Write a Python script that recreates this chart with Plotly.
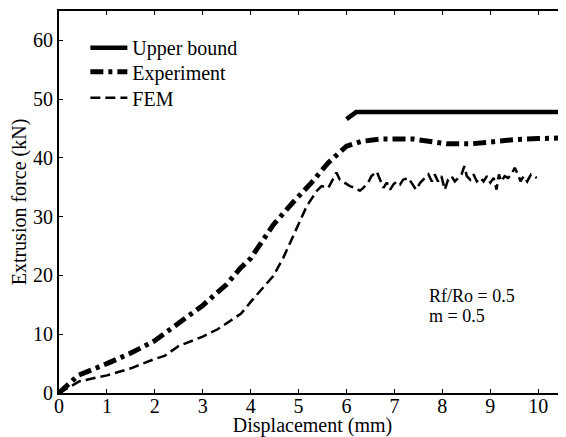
import plotly.graph_objects as go

# Upper bound (solid)
ub_x = [6.0, 6.2, 10.6]
ub_y = [46.6, 47.8, 47.8]

# Experiment (dash-dot)
exp_x = [0, 0.4, 1.0, 1.5, 2.0, 2.5, 3.0, 3.5, 3.78, 4.0, 4.47, 4.89, 5.27, 5.62, 6.0,
         6.3, 6.7, 7.4, 7.8, 8.1, 8.6, 9.0, 9.5, 10.0, 10.6]
exp_y = [0, 3.0, 5.0, 6.8, 8.9, 11.8, 14.9, 18.5, 21.2, 22.9, 28.6, 32.5, 35.8, 39.2, 42.0,
         42.8, 43.2, 43.2, 42.8, 42.4, 42.4, 42.8, 43.1, 43.3, 43.4]

# FEM (dashed)
fem_x = [0, 0.43, 1.0, 1.5, 2.0, 2.2, 2.5, 3.0, 3.3, 3.6, 3.8, 4.0, 4.47, 4.68, 4.92,
         5.17, 5.38, 5.48, 5.62, 5.79, 5.86, 5.97, 6.07, 6.18, 6.28, 6.35, 6.45, 6.52,
         6.63, 6.70, 6.77, 6.84, 6.91, 6.98, 7.05, 7.12, 7.18, 7.29, 7.36, 7.45, 7.54,
         7.64, 7.71, 7.78, 7.84, 7.91, 7.98, 8.05, 8.12, 8.19, 8.26, 8.33, 8.40, 8.46,
         8.51, 8.58, 8.65, 8.72, 8.79, 8.86, 8.93, 9.00, 9.07, 9.13, 9.18, 9.23, 9.30,
         9.37, 9.44, 9.51, 9.58, 9.63, 9.70, 9.77, 9.85, 9.92, 9.97]
fem_y = [0, 2.0, 3.0, 4.2, 5.8, 6.3, 8.0, 9.6, 10.8, 12.5, 13.5, 15.5, 19.9, 23.0, 27.3,
         31.8, 34.4, 35.2, 34.9, 37.5, 36.3, 35.8, 35.2, 34.9, 34.4, 34.9, 35.8, 36.9,
         37.7, 36.3, 34.9, 35.8, 34.6, 35.5, 36.0, 35.5, 36.3, 36.6, 35.8, 34.6, 35.8,
         36.6, 37.2, 36.0, 37.2, 36.0, 36.9, 34.6, 36.3, 36.9, 36.0, 36.6, 37.2, 38.6,
         36.9, 36.3, 37.2, 36.0, 36.6, 36.0, 36.9, 35.8, 36.6, 34.6, 37.2, 36.0, 36.9,
         36.6, 37.2, 38.3, 37.2, 36.0, 36.9, 36.0, 37.2, 36.9, 36.6]

x_ticks = [0, 1, 2, 3, 4, 5, 6, 7, 8, 9, 10]
y_ticks = [0, 10, 20, 30, 40, 50, 60]

FONT = "Liberation Serif"

fig = go.Figure()
fig.add_trace(go.Scatter(x=ub_x, y=ub_y, mode="lines", name="Upper bound", legend="legend",
                         line=dict(color="black", width=4.5)))
fig.add_trace(go.Scatter(x=exp_x, y=exp_y, mode="lines", name="Experiment", legend="legend2",
                         line=dict(color="black", width=5, dash="13px,5px,4px,5px")))
fig.add_trace(go.Scatter(x=fem_x, y=fem_y, mode="lines", name="FEM", legend="legend3",
                         line=dict(color="black", width=2.5, dash="10px,5px")))

axis_common = dict(showline=True, linecolor="black", linewidth=2, ticks="inside",
                   ticklen=4, tickwidth=1, tickcolor="black", showgrid=False,
                   zeroline=False, tickfont=dict(family=FONT, size=20, color="black"))

leg_common = dict(x=0.052, xanchor="left", yanchor="middle", bgcolor="rgba(0,0,0,0)",
                  itemwidth=37, font=dict(family=FONT, size=20, color="black"))

fig.update_layout(
    width=558, height=429,
    margin=dict(l=51, r=0, t=3, b=44),
    plot_bgcolor="white", paper_bgcolor="white",
    font=dict(family=FONT, size=20, color="black"),
    xaxis=dict(range=[0, 10.58], tickvals=x_ticks, mirror="ticks", ticklabelstandoff=-6,
               title=dict(text="Displacement (mm)", font=dict(family=FONT, size=20), standoff=4),
               **axis_common),
    yaxis=dict(range=[0, 65], tickvals=y_ticks,
               title=dict(text="Extrusion force (kN)", font=dict(family=FONT, size=20), standoff=4),
               **axis_common),
    legend=dict(y=0.904, **leg_common),
    legend2=dict(y=0.841, **leg_common),
    legend3=dict(y=0.773, **leg_common),
    showlegend=True,
)

fig.add_annotation(x=7.67, y=16.5, xref="x", yref="y", text="Rf/Ro = 0.5", showarrow=False,
                   xanchor="left", yanchor="middle", font=dict(family=FONT, size=18, color="black"))
fig.add_annotation(x=7.67, y=13.1, xref="x", yref="y", text="m = 0.5", showarrow=False,
                   xanchor="left", yanchor="middle", font=dict(family=FONT, size=18, color="black"))

fig.write_html("out.html")
